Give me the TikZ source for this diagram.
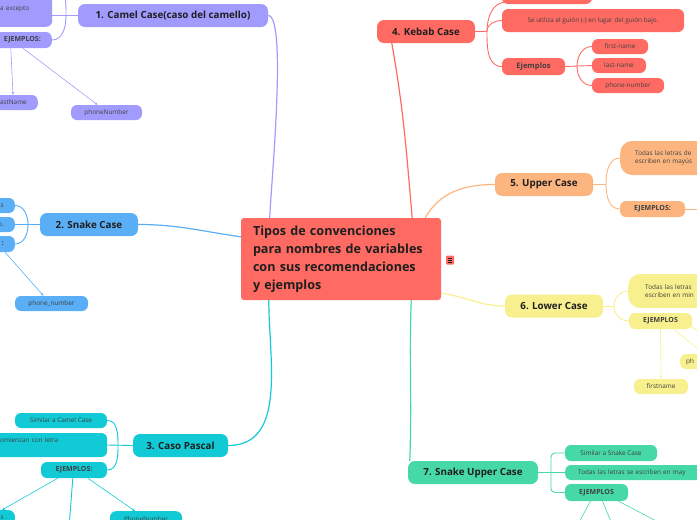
\documentclass[tikz,border=0pt]{standalone}
\usepackage{fontspec}
\setmainfont{Open Sans}
\usetikzlibrary{calc, arrows.meta, positioning}
\definecolor{CenterRed}{HTML}{FF6B63}
\definecolor{CamelPurple}{HTML}{A29BFE}
\definecolor{SnakeBlue}{HTML}{5AAEF5}
\definecolor{PascalTeal}{HTML}{12CAD6}
\definecolor{KebabRed}{HTML}{FF6B63}
\definecolor{UpperOrange}{HTML}{FDB57F}
\definecolor{LowerYellow}{HTML}{F8F08E}
\definecolor{SnUpGreen}{HTML}{46D8A6}
\definecolor{InkGray}{HTML}{1E1E1E}

\begin{document}
\begin{tikzpicture}[x=1pt, y=1pt,
  topic/.style={rounded corners=7pt, fill=#1, text=InkGray, font=\fontsize{9.8}{11}\selectfont\bfseries,
    minimum height=23pt, inner sep=0pt},
  sub/.style={rounded corners=6pt, fill=#1, text=InkGray!85, font=\fontsize{6.4}{8}\selectfont,
    minimum height=15pt, inner ysep=1pt, inner xsep=6pt},
  subhead/.style={sub=#1, font=\fontsize{7}{8}\selectfont\bfseries, minimum height=16pt},
  link/.style={draw=#1, line width=0.9pt},
  branch/.style={draw=#1, line width=1.2pt},
  ex/.style={draw=#1, line width=0.6pt, -{Stealth[length=3pt, width=2.6pt]}}]
  \useasboundingbox (0,0) rectangle (697,-520);

  % central topic
  \node[fill=CenterRed, rounded corners=3pt, minimum width=200pt, minimum height=82pt, inner xsep=12pt,
    text width=176pt, align=left, text=InkGray, font=\fontsize{12.6}{18}\selectfont\bfseries]
    (center) at (341,-259) {Tipos de convenciones\\para nombres de variables\\con sus recomendaciones\\y ejemplos};
  \node[fill=CenterRed, rounded corners=1pt, minimum width=8pt, minimum height=9pt, inner sep=0pt]
    (menu) at (450,-260) {};
  \foreach \dy in {-1.8,0,1.8}
    \draw[InkGray, line width=0.5pt] ($(menu.center)+(-2.3,\dy)$) -- ($(menu.center)+(2.3,\dy)$);

  % 1. camel case
  \node[topic=CamelPurple, minimum width=190pt] (camel) at (173,-15.5) {1. Camel Case(caso del camello)};
  \node[sub=CamelPurple, anchor=south west, minimum height=35pt, text width=45pt, inner xsep=7pt, align=left]
    (camA) at (-7,-27) {a excepto};
  \node[subhead=CamelPurple, anchor=east, inner xsep=11pt] (camEj) at (52,-40) {EJEMPLOS:};
  \node[sub=CamelPurple, anchor=east, inner xsep=11pt] (camLast) at (38,-102.5) {lastName};
  \node[sub=CamelPurple, minimum width=71pt] (camPhone) at (106.5,-112.5) {phoneNumber};
  \coordinate (camTop) at (54,14);
  \coordinate (camOff) at (-6,-54);
  \draw[branch=CamelPurple] ($(center.north west)+(29,0)$) to[out=90, in=0, looseness=0.25] (camel.east);
  \draw[link=CamelPurple] (camel.west) -- (camA.east |- camel.west);
  \draw[link=CamelPurple] (66,-15.5) to[out=90, in=0] (camTop);
  \draw[link=CamelPurple] (66,-15.5) to[out=-90, in=0] (camEj.east);
  \draw[ex=CamelPurple] ($(camEj.south west)+(18,0)$) -- (camLast.north -| 13,0);
  \draw[ex=CamelPurple] ($(camEj.south west)+(30,0)$) -- ($(camPhone.north)+(-9,0)$);
  \draw[link=CamelPurple] ($(camEj.south west)+(5,0)$) -- (camOff);

  % 2. snake case
  \node[topic=SnakeBlue, minimum width=98pt] (snake) at (89,-224.5) {2. Snake Case};
  \node[sub=SnakeBlue, anchor=east, inner xsep=11pt, text width=20pt, align=right] (snA) at (15,-205.5) {s};
  \node[sub=SnakeBlue, anchor=east, inner xsep=11pt, text width=20pt, align=right] (snB) at (15,-224.5) {o.};
  \node[subhead=SnakeBlue, anchor=east, inner xsep=11pt, text width=20pt, align=right] (snC) at (15,-244) {:};
  \node[sub=SnakeBlue, minimum width=73pt] (snPhone) at (51.5,-303.5) {phone\_number};
  \draw[branch=SnakeBlue] ($(center.north west)+(0,-19)$) to[out=172, in=0] (snake.east);
  \draw[link=SnakeBlue] (snake.west) -- (snB.east);
  \draw[link=SnakeBlue] (28,-224.5) to[out=90, in=0] (snA.east);
  \draw[link=SnakeBlue] (28,-224.5) to[out=-90, in=0] (snC.east);
  \draw[ex=SnakeBlue] ($(snC.south east)+(-10,0)$) -- ($(snPhone.north)+(-8,0)$);

  % 3. caso pascal
  \node[topic=PascalTeal, minimum width=95pt] (pascal) at (180.5,-445.5) {3. Caso Pascal};
  \node[sub=PascalTeal, minimum width=92pt] (paA) at (61,-420.5) {Similar a Camel Case};
  \node[sub=PascalTeal, anchor=west, minimum height=24pt, text width=100pt, inner xsep=7pt, align=left]
    (paB) at (-7,-445) {omienzan con letra\\[1pt]\mbox{}};
  \node[subhead=PascalTeal, minimum width=66pt] (paEj) at (74,-470) {EJEMPLOS:};
  \node[sub=PascalTeal, anchor=north east, inner xsep=11pt, text width=20pt, align=right] (paS) at (15,-510) {s};
  \node[sub=PascalTeal, anchor=north, minimum width=72pt] (paPhone) at (146,-511) {PhoneNumber};
  \coordinate (paMid) at (69,-528);
  \draw[branch=PascalTeal] ($(center.south west)+(28,0)$) to[out=-90, in=0] (pascal.east);
  \draw[link=PascalTeal] (pascal.west) -- (paB.east);
  \draw[link=PascalTeal] (118,-445.5) to[out=90, in=0] (paA.east);
  \draw[link=PascalTeal] (118,-445.5) to[out=-90, in=0] (paEj.east);
  \draw[ex=PascalTeal] ($(paEj.south west)+(17,0)$) -- (2,-510);
  \draw[link=PascalTeal] ($(paEj.south west)+(32,0)$) -- (paMid);
  \draw[ex=PascalTeal] ($(paEj.south west)+(47,0)$) -- ($(paPhone.north)+(-11,0)$);

  % 4. kebab case
  \node[topic=KebabRed, minimum width=98pt] (kebab) at (426,-31.5) {4. Kebab Case};
  \node[sub=KebabRed, minimum width=90pt, minimum height=16pt] (kbA) at (547,4) {};
  \node[sub=KebabRed, minimum width=182pt, minimum height=23pt] (kbB) at (593,-20.5)
    {Se utiliza el guión (-) en lugar del guión bajo.\\[1pt]\mbox{}};
  \node[subhead=KebabRed, minimum width=63pt, minimum height=17pt, font=\fontsize{7.6}{9}\selectfont\bfseries]
    (kbEj) at (533.5,-66.5) {Ejemplos};
  \node[sub=KebabRed, minimum width=56pt] (kbF) at (620,-46.5) {first-name};
  \node[sub=KebabRed, minimum width=54pt] (kbL) at (619,-65.5) {last-name};
  \node[sub=KebabRed, minimum width=72pt] (kbP) at (628,-85.5) {phone-number};
  \draw[branch=KebabRed] ($(center.north east)+(-29,0)$) to[out=95, in=-80] ($(kebab.south west)+(15,0)$);
  \draw[link=KebabRed] (kebab.east) -- (487,-31.5);
  \draw[link=KebabRed] (487,-31.5) to[out=90, in=180] ($(kbA.south west)+(4,2)$);
  \draw[link=KebabRed] (487,-31.5) to[out=90, in=180] (kbB.west);
  \draw[link=KebabRed] (487,-31.5) to[out=-90, in=180] (kbEj.west);
  \draw[link=KebabRed] (kbEj.east) -- (kbL.west);
  \draw[link=KebabRed] (577,-66.5) to[out=90, in=180] (kbF.west);
  \draw[link=KebabRed] (577,-66.5) to[out=-90, in=180] (kbP.west);

  % 5. upper case
  \node[topic=UpperOrange, minimum width=98pt] (upper) at (544,-184.5) {5. Upper Case};
  \node[sub=UpperOrange, anchor=west, rounded corners=12pt, minimum height=34pt, text width=110pt,
    inner xsep=15pt, align=left] (upA) at (620,-158) {Todas las letras de\\escriben en mayús};
  \node[subhead=UpperOrange, minimum width=65pt] (upEj) at (652.5,-209) {EJEMPLOS:};
  \coordinate (upMore) at (702,-209);
  \draw[branch=UpperOrange] ($(center.north east)+(-16,0)$) to[out=60, in=180] (upper.west);
  \draw[link=UpperOrange] (upper.east) -- (606,-184.5);
  \draw[link=UpperOrange] (606,-184.5) to[out=90, in=180] (upA.west);
  \draw[link=UpperOrange] (606,-184.5) to[out=-90, in=180] (upEj.west);
  \draw[link=UpperOrange] (upEj.east) -- (upMore);

  % 6. lower case
  \node[topic=LowerYellow, minimum width=98pt] (lower) at (554,-306) {6. Lower Case};
  \node[sub=LowerYellow, anchor=west, rounded corners=12pt, minimum height=34pt, text width=110pt,
    inner xsep=17pt, align=left] (loA) at (628,-291) {Todas las letras\\escriben en min};
  \node[subhead=LowerYellow, minimum width=63pt] (loEj) at (660.5,-321) {EJEMPLOS};
  \node[sub=LowerYellow, minimum width=54pt] (loFirst) at (661,-386.5) {firstname};
  \node[sub=LowerYellow, anchor=west, text width=40pt, align=left] (loPh) at (680,-361.5) {ph};
  \coordinate (loOff) at (706,-337);
  \draw[branch=LowerYellow] ($(center.south east)+(0,7)$) to[out=-8, in=180] (lower.west);
  \draw[link=LowerYellow] (lower.east) -- (614,-306);
  \draw[link=LowerYellow] (614,-306) to[out=90, in=180] (loA.west);
  \draw[link=LowerYellow] (614,-306) to[out=-90, in=180] (loEj.west);
  \draw[ex=LowerYellow] (loEj.south) -- (loFirst.north);
  \draw[ex=LowerYellow] ($(loEj.south)+(13,0)$) -- (712,-360);
  \draw[link=LowerYellow] ($(loEj.east)+(-2,-5)$) -- (loOff);

  % 7. snake upper case
  \node[topic=SnUpGreen, minimum width=130pt] (snUp) at (473,-472.5) {7. Snake Upper Case};
  \node[sub=SnUpGreen, minimum width=92pt, minimum height=16pt] (suA) at (611,-453) {Similar a Snake Case};
  \node[sub=SnUpGreen, anchor=west, text width=150pt, inner xsep=13pt, align=left]
    (suB) at (565,-472.5) {Todas las letras se escriben en may};
  \node[subhead=SnUpGreen, minimum width=63pt, minimum height=17pt] (suEj) at (596.5,-492.5) {EJEMPLOS};
  \draw[branch=SnUpGreen] ($(center.south east)+(-30,0)$) to[out=-92, in=88] ($(snUp.north west)+(2,0)$);
  \draw[link=SnUpGreen] (snUp.east) -- (suB.west);
  \draw[link=SnUpGreen, rounded corners=4pt] (551,-472.5) |- (suA.west);
  \draw[link=SnUpGreen, rounded corners=4pt] (551,-472.5) |- (suEj.west);
  \foreach \dx/\tx in {-6/578, 6/612, 22/662}
    \draw[link=SnUpGreen, line width=0.6pt] ($(suEj.south)+(\dx,0)$) -- (\tx,-524);
\end{tikzpicture}
\end{document}
